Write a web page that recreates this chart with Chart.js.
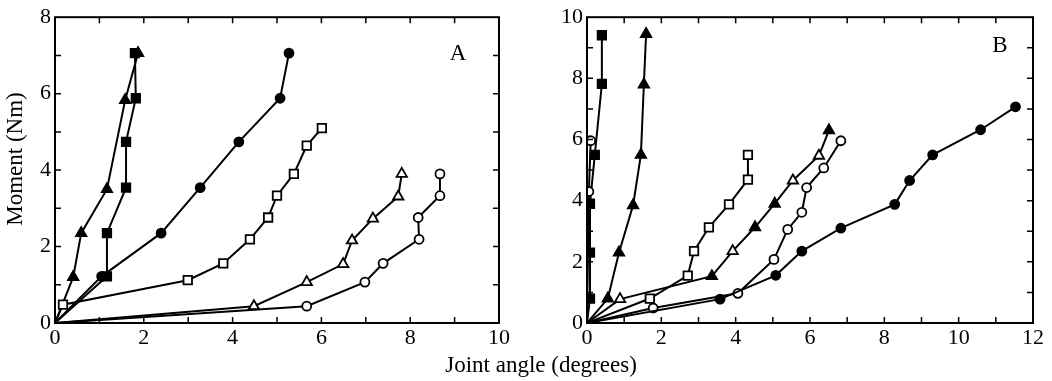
<!DOCTYPE html>
<html>
<head>
<meta charset="utf-8">
<script src="https://cdn.jsdelivr.net/npm/chart.js@4.4.1/dist/chart.umd.min.js"></script>
<style>
  html, body { margin: 0; padding: 0; background: #fff; }
  #wrap { position: relative; width: 1052px; height: 381px; font-family: 'Liberation Serif', 'DejaVu Serif', serif; }
  .pane { position: absolute; top: 0; height: 381px; }
  #paneA { left: 0; width: 520px; }
  #paneB { left: 530px; width: 522px; }
  #ytitle { position: absolute; left: -65px; top: 146px; width: 160px; text-align: center; transform: rotate(-90deg); font-size: 23px; line-height: 26px; }
  #xtitle { position: absolute; left: 341px; top: 352px; width: 400px; text-align: center; font-size: 23px; line-height: 26px; }
</style>
</head>
<body>
<div id="wrap">
  <div class="pane" id="paneA"><canvas id="chartA"></canvas></div>
  <div class="pane" id="paneB"><canvas id="chartB"></canvas></div>
  <div id="ytitle">Moment (Nm)</div>
  <div id="xtitle">Joint angle (degrees)</div>
</div>
<script>
// ---- Panel A data (joint angle deg, moment Nm) ----
const aFilledTriX = [0, 0.41, 0.59, 1.17, 1.58, 1.87];
const aFilledTriY = [0, 1.2, 2.35, 3.5, 5.83, 7.06];
const aFilledSqX = [0, 1.17, 1.17, 1.6, 1.6, 1.82, 1.8];
const aFilledSqY = [0, 1.22, 2.35, 3.54, 4.74, 5.88, 7.06];
const aFilledCircX = [0, 1.05, 2.39, 3.27, 4.14, 5.07, 5.27];
const aFilledCircY = [0, 1.22, 2.35, 3.54, 4.74, 5.88, 7.06];
const aOpenSqX = [0, 0.18, 2.99, 3.79, 4.39, 4.8, 5.0, 5.38, 5.67, 6.01];
const aOpenSqY = [0, 0.48, 1.12, 1.56, 2.19, 2.76, 3.33, 3.9, 4.64, 5.1];
const aOpenTriX = [0, 4.48, 5.67, 6.49, 6.69, 7.16, 7.73, 7.81];
const aOpenTriY = [0, 0.44, 1.07, 1.54, 2.16, 2.73, 3.31, 3.9];
const aOpenCircX = [0, 5.67, 6.98, 7.39, 8.2, 8.18, 8.67, 8.67];
const aOpenCircY = [0, 0.44, 1.07, 1.56, 2.19, 2.76, 3.33, 3.9];

// ---- Panel B data ----
const bFilledSqX = [0, 0.08, 0.08, 0.08, 0.21, 0.4, 0.4];
const bFilledSqY = [0, 0.8, 2.3, 3.9, 5.5, 7.82, 9.41];
const bOpenAxisX = [0, 0.05, 0.1];
const bOpenAxisY = [0, 4.3, 5.96];
const bFilledTriX = [0, 0.56, 0.86, 1.24, 1.45, 1.53, 1.59];
const bFilledTriY = [0, 0.8, 2.3, 3.85, 5.5, 7.8, 9.45];
const bOpenSqX = [0, 1.69, 2.71, 2.88, 3.28, 3.82, 4.33, 4.33];
const bOpenSqY = [0, 0.8, 1.55, 2.35, 3.13, 3.88, 4.69, 5.5];
const bOpenTriX = [0, 0.89, 3.36, 3.92, 4.52, 5.05, 5.54, 6.24, 6.51];
const bOpenTriY = [0, 0.78, 1.53, 2.35, 3.13, 3.9, 4.66, 5.47, 6.3];
const bOpenCircX = [0, 1.78, 4.06, 5.03, 5.4, 5.78, 5.91, 6.37, 6.83];
const bOpenCircY = [0, 0.49, 0.97, 2.08, 3.06, 3.62, 4.43, 5.07, 5.96];
const bFilledCircX = [0, 3.58, 5.08, 5.78, 6.83, 8.28, 8.68, 9.3, 10.59, 11.53];
const bFilledCircY = [0, 0.78, 1.56, 2.35, 3.1, 3.88, 4.66, 5.5, 6.32, 7.07];

// axis tick labels
const aXTicks = [0, 2, 4, 6, 8, 10];
const aYTicks = [0, 2, 4, 6, 8];
const bXTicks = [0, 2, 4, 6, 8, 10, 12];
const bYTicks = [0, 2, 4, 6, 8, 10];

const FONT = "'Liberation Serif', 'DejaVu Serif', serif";

function pts(xs, ys) {
  return xs.map((x, i) => ({ x: x, y: ys[i] }));
}

// one line with markers; first point (origin) has no marker
function series(xs, ys, shape, filled, extra) {
  const r = shape === 'rect' ? 6 : shape === 'triangle' ? 6 : 4.5;
  return Object.assign({
    data: pts(xs, ys),
    borderColor: '#000',
    borderWidth: 2,
    showLine: true,
    tension: 0,
    pointStyle: shape,
    pointRadius: (ctx) => ctx.dataIndex === 0 ? 0 : r,
    pointBorderWidth: 1.8,
    pointBorderColor: '#000',
    pointBackgroundColor: filled ? '#000' : '#fff'
  }, extra || {});
}

// frame + inward ticks on all 4 sides, panel letter
const framePlugin = {
  id: 'frame',
  afterDraw(chart) {
    const { ctx, chartArea: { top, bottom, left, right }, scales: { x, y } } = chart;
    const opts = chart.options.plugins.frame;
    ctx.save();
    ctx.strokeStyle = '#000';
    ctx.lineWidth = 2;
    ctx.strokeRect(left, top, right - left, bottom - top);
    ctx.lineWidth = 1.5;
    ctx.beginPath();
    for (let v = x.min + 1; v < x.max; v++) {
      const px = x.getPixelForValue(v);
      ctx.moveTo(px, bottom); ctx.lineTo(px, bottom - 6);
      ctx.moveTo(px, top); ctx.lineTo(px, top + 6);
    }
    for (let v = y.min + 1; v < y.max; v++) {
      const py = y.getPixelForValue(v);
      ctx.moveTo(left, py); ctx.lineTo(left + 6, py);
      ctx.moveTo(right, py); ctx.lineTo(right - 6, py);
    }
    ctx.stroke();
    ctx.fillStyle = '#000';
    ctx.font = '23px ' + FONT;
    ctx.textAlign = 'center';
    ctx.textBaseline = 'middle';
    ctx.fillText(opts.letter, right - opts.dx, top + opts.dy);
    ctx.restore();
  }
};

function makeChart(id, datasets, xMax, yMax, xTicks, yTicks, yWidth, padRight, letter, dx, dy) {
  return new Chart(document.getElementById(id).getContext('2d'), {
    type: 'scatter',
    data: { datasets: datasets },
    options: {
      responsive: true,
      maintainAspectRatio: false,
      animation: false,
      layout: { padding: { top: 16, right: padRight, left: 0, bottom: 0 } },
      plugins: {
        legend: { display: false },
        tooltip: { enabled: false },
        frame: { letter: letter, dx: dx, dy: dy }
      },
      scales: {
        x: {
          type: 'linear', min: 0, max: xMax,
          afterBuildTicks: (s) => { s.ticks = xTicks.map(v => ({ value: v })); },
          afterFit: (s) => { s.height = 58; },
          grid: { display: false, drawTicks: false },
          border: { display: false },
          ticks: { color: '#000', padding: 2, font: { size: 22, family: FONT }, maxRotation: 0 }
        },
        y: {
          type: 'linear', min: 0, max: yMax,
          afterBuildTicks: (s) => { s.ticks = yTicks.map(v => ({ value: v })); },
          afterFit: (s) => { s.width = yWidth; },
          grid: { display: false, drawTicks: false },
          border: { display: false },
          ticks: { color: '#000', padding: 4, font: { size: 22, family: FONT } }
        }
      }
    },
    plugins: [framePlugin]
  });
}

makeChart('chartA', [
  series(aOpenCircX, aOpenCircY, 'circle', false),
  series(aOpenTriX, aOpenTriY, 'triangle', false),
  series(aOpenSqX, aOpenSqY, 'rect', false),
  series(aFilledCircX, aFilledCircY, 'circle', true),
  series(aFilledSqX, aFilledSqY, 'rect', true),
  series(aFilledTriX, aFilledTriY, 'triangle', true)
], 10, 8, aXTicks, aYTicks, 55, 21, 'A', 41, 37);

makeChart('chartB', [
  series(bFilledCircX, bFilledCircY, 'circle', true),
  series(bOpenCircX, bOpenCircY, 'circle', false),
  series(bOpenTriX, bOpenTriY, 'triangle', false, {
    pointBackgroundColor: ['#fff', '#fff', '#000', '#fff', '#000', '#000', '#fff', '#fff', '#000']
  }),
  series(bOpenSqX, bOpenSqY, 'rect', false),
  series(bFilledTriX, bFilledTriY, 'triangle', true),
  series(bOpenAxisX, bOpenAxisY, 'circle', false),
  series(bFilledSqX, bFilledSqY, 'rect', true)
], 12, 10, bXTicks, bYTicks, 57, 19, 'B', 33, 29);
</script>
</body>
</html>
